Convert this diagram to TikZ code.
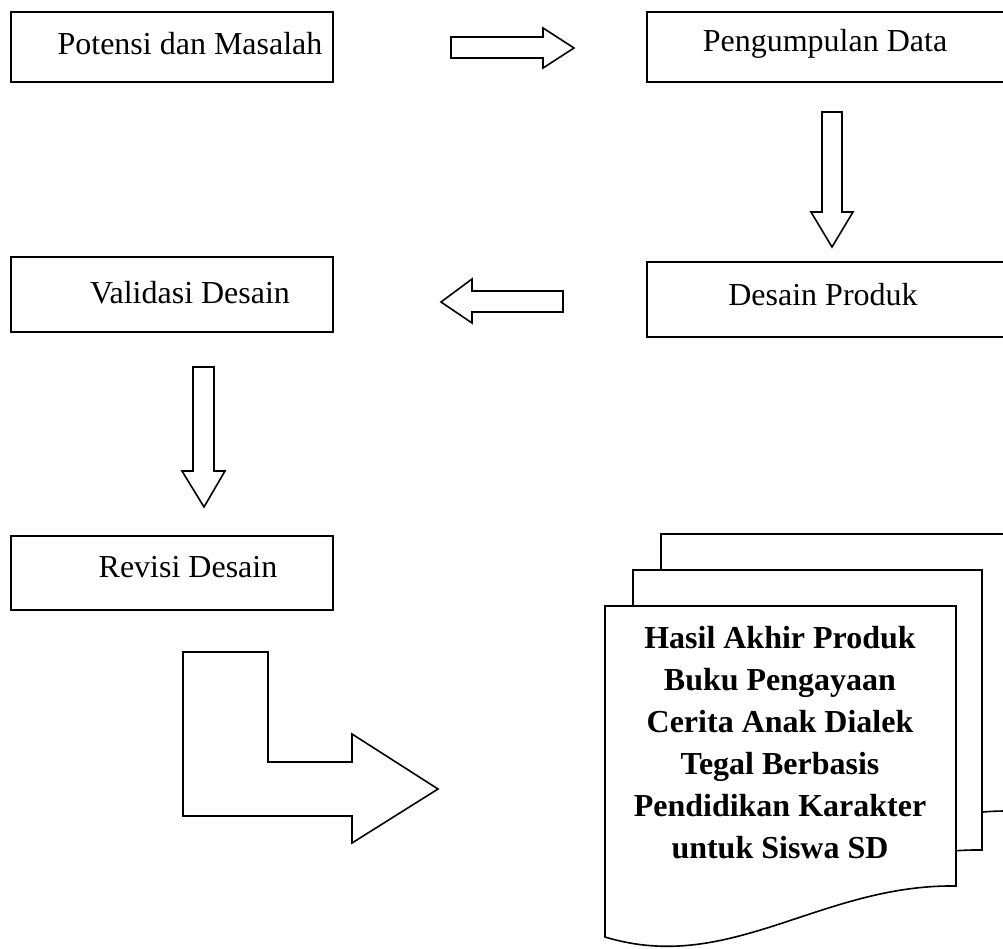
\documentclass[tikz,border=0pt]{standalone}
\usepackage{fontspec}
\setmainfont{Liberation Serif}
\begin{document}
\begin{tikzpicture}[x=1pt,y=-1pt,
  line width=1.6pt, line join=miter,
  stepbox/.style={draw=black, fill=white},
  blockarrow/.style={draw=black, fill=white},
  lbl/.style={font=\fontsize{32}{38}\selectfont, inner sep=0pt},
  doclbl/.style={font=\fontsize{32}{42}\selectfont\bfseries, align=center, inner sep=0pt}]
\useasboundingbox (0,0) rectangle (1003,949);
\clip (0,0) rectangle (1003,949);

% boxes
\draw[stepbox] (11,12) rectangle (333,82);
\node[lbl] (t1) at (190,44) {Potensi dan Masalah};
\draw[stepbox] (647,12) rectangle (1010,82);
\node[lbl] (t2) at (825,44) {Pengumpulan Data};
\draw[stepbox] (11,257) rectangle (333,332);
\node[lbl] (t3) at (190,293) {Validasi Desain};
\draw[stepbox] (647,262) rectangle (1010,337);
\node[lbl] (t4) at (823,295) {Desain Produk};
\draw[stepbox] (11,536) rectangle (333,610);
\node[lbl] (t5) at (188,567) {Revisi Desain};

% block arrows
\draw[blockarrow] (451,37) -- (543,37) -- (543,28) -- (574,48) -- (543,68) -- (543,58) -- (451,58) -- cycle;
\draw[blockarrow] (822,112) -- (842,112) -- (842,212) -- (853,212) -- (832,247) -- (811,212) -- (822,212) -- cycle;
\draw[blockarrow] (563,291) -- (472,291) -- (472,279) -- (441,302) -- (472,323) -- (472,312) -- (563,312) -- cycle;
\draw[blockarrow] (193,367) -- (214,367) -- (214,471) -- (225,471) -- (204,507) -- (182,471) -- (193,471) -- cycle;
\draw[blockarrow] (183,652) -- (268,652) -- (268,762) -- (352,762) -- (352,734) -- (438,789) -- (352,843) -- (352,816) -- (183,816) -- cycle;

% multi-document
\draw[stepbox] (661,534) -- (1012,534) -- (1012,811) .. controls (876,809) and (786,900) .. (661,862) -- cycle;
\draw[stepbox] (633,570) -- (982,570) -- (982,850) .. controls (848,848) and (758,939) .. (633,901) -- cycle;
\draw[stepbox] (605,606) -- (956,606) -- (956,886) .. controls (820,884) and (730,975) .. (605,937) -- cycle;
\node[doclbl] (t6) at (780,743) {Hasil Akhir Produk\\Buku Pengayaan\\Cerita Anak Dialek\\Tegal Berbasis\\Pendidikan Karakter\\untuk Siswa SD};
\end{tikzpicture}
\end{document}
